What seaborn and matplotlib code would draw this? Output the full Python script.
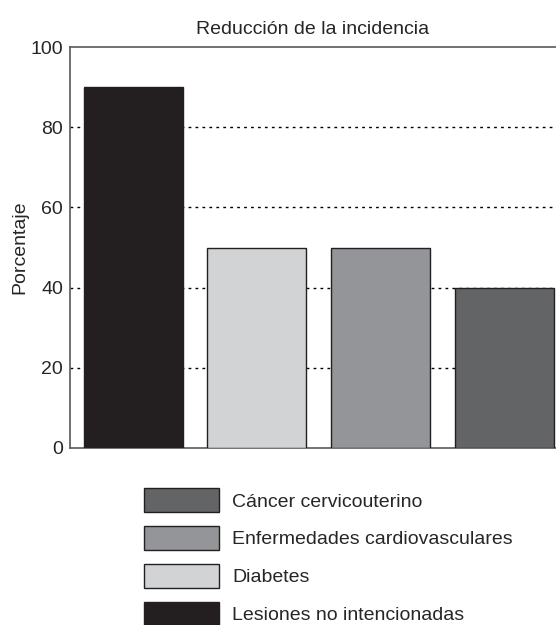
import numpy as np
import pandas as pd
import matplotlib
matplotlib.use("Agg")
import matplotlib.pyplot as plt
import seaborn as sns

# data
categorias = ["Lesiones no intencionadas", "Diabetes",
              "Enfermedades cardiovasculares", "Cáncer cervicouterino"]
porcentajes = [90, 50, 50, 40]
colores = ["#231f20", "#d1d3d4", "#939598", "#636466"]
y_ticks = [0, 20, 40, 60, 80, 100]

df = pd.DataFrame({"categoria": categorias, "porcentaje": porcentajes})

sns.set_style("white")
plt.rcParams["font.family"] = ["Liberation Sans", "DejaVu Sans"]

fig = plt.figure(figsize=(5.56, 6.25), dpi=100)
ax = fig.add_axes([70 / 556, 1 - 448 / 625, 1 - 70 / 556, (448 - 47) / 625])

sns.barplot(data=df, x="categoria", y="porcentaje", hue="categoria",
            order=categorias, hue_order=categorias, palette=colores,
            width=0.8, edgecolor="#231f20", linewidth=1, saturation=1,
            legend=False, ax=ax, zorder=3)

# dotted guide lines behind the bars
for v in y_ticks[1:-1]:
    ax.axhline(v, color="black", linewidth=1, linestyle=(0, (2, 3)), zorder=1)

ax.set_xlim(-0.51, 3.42)
ax.set_ylim(0, 100)
ax.set_yticks(y_ticks)
ax.set_xticks([])
ax.set_xlabel("")
ax.set_ylabel("Porcentaje", fontsize=14, labelpad=1.5)
ax.tick_params(axis="y", length=0, pad=5, labelsize=14)
ax.set_title("Reducción de la incidencia", fontsize=14, pad=9)

for s in ["left", "bottom", "top"]:
    ax.spines[s].set_color("#58595b")
    ax.spines[s].set_linewidth(1.2)
ax.spines["right"].set_visible(False)

# legend below, reversed order
handles = [c.patches[0] for c in ax.containers] if len(ax.containers) == 4 else list(ax.patches)
handles = handles[::-1]
labels = categorias[::-1]
fig.legend(handles, labels, loc="upper left",
           bbox_to_anchor=(144 / 556, 1 - 488 / 625), frameon=False,
           fontsize=14, handlelength=3.87, handleheight=1.54,
           labelspacing=0.7, handletextpad=0.68, borderpad=0, borderaxespad=0)

fig.savefig("out.png", dpi=100)
